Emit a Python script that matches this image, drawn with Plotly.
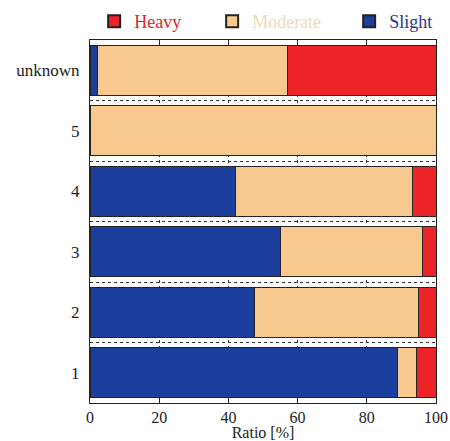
import plotly.graph_objects as go

categories = ["1", "2", "3", "4", "5", "unknown"]
slight = [89.0, 47.5, 55.0, 42.0, 0.0, 2.2]
moderate = [5.5, 47.4, 41.0, 51.2, 100.0, 54.8]
heavy = [5.5, 5.1, 4.0, 6.8, 0.0, 43.0]
x_ticks = [0, 20, 40, 60, 80, 100]

colors = {"Slight": "#1c3f9d", "Moderate": "#f8c98f", "Heavy": "#ec2427"}
text_colors = {"Slight": "#2a3590", "Moderate": "#f1d9b4", "Heavy": "#e0262b"}
legend_ids = {"Heavy": "legend", "Moderate": "legend2", "Slight": "legend3"}
legend_x = {"legend": 0.012, "legend2": 0.353, "legend3": 0.749}
serif = "Times New Roman, Liberation Serif, serif"

fig = go.Figure()
for name, vals in [("Slight", slight), ("Moderate", moderate), ("Heavy", heavy)]:
    fig.add_trace(go.Bar(
        y=categories, x=vals, orientation="h",
        name=f"<span style='color:{text_colors[name]}'>{name}</span>",
        legend=legend_ids[name],
        marker=dict(color=colors[name], line=dict(color="#222", width=1)),
    ))

legend_common = dict(orientation="h", xanchor="left", y=1.0, yanchor="bottom",
                     font=dict(family=serif, size=18), itemsizing="constant",
                     bgcolor="rgba(0,0,0,0)")

fig.update_layout(
    barmode="stack",
    bargap=0.17,
    width=450, height=441,
    margin=dict(l=90, r=14, t=40, b=38, autoexpand=False),
    paper_bgcolor="white", plot_bgcolor="white",
    font=dict(family=serif, size=17, color="#222"),
    showlegend=True,
    legend=dict(x=legend_x["legend"], **legend_common),
    legend2=dict(x=legend_x["legend2"], **legend_common),
    legend3=dict(x=legend_x["legend3"], **legend_common),
    xaxis=dict(range=[0, 100], tickvals=x_ticks, showline=True, mirror="ticks",
               linecolor="#222", linewidth=1, ticks="inside", ticklen=5,
               tickcolor="#222", showgrid=True, gridcolor="#333", griddash="dot",
               gridwidth=1, zeroline=False, automargin=False,
               tickfont=dict(family=serif, size=16),
               title=dict(text="Ratio [%]", standoff=4, font=dict(family=serif, size=16))),
    yaxis=dict(categoryorder="array", categoryarray=categories, showline=True,
               mirror=True, linecolor="#222", linewidth=1, ticks="",
               tickson="boundaries", showgrid=True, gridcolor="#333",
               griddash="dot", gridwidth=1, ticklabelstandoff=6, automargin=False,
               tickfont=dict(family=serif, size=17)),
)

fig.write_html("out.html", config={"displayModeBar": False},
               post_script="document.body.style.margin='0';")
